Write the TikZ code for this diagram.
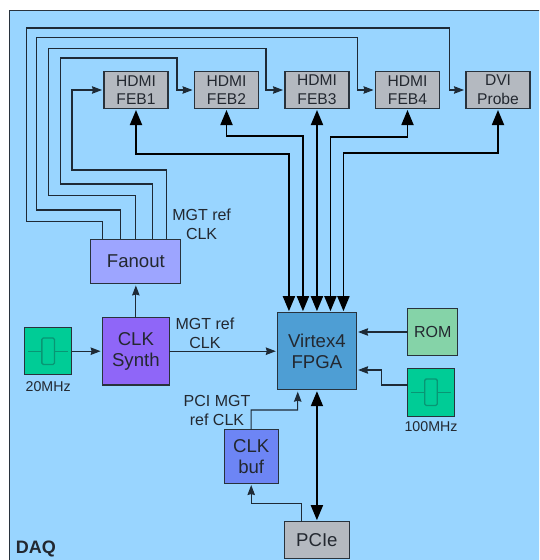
\documentclass[tikz,border=0pt]{standalone}
\usepackage{fontspec}
\setmainfont{Liberation Sans}
\usetikzlibrary{arrows.meta, positioning}
\definecolor{boardblue}{RGB}{153, 213, 255}
\definecolor{edgegrey}{RGB}{40, 50, 60}
\definecolor{wiregrey}{RGB}{30, 42, 54}
\definecolor{inkgrey}{RGB}{35, 40, 48}
\definecolor{portgrey}{RGB}{180, 185, 192}
\definecolor{fanoutblue}{RGB}{157, 165, 255}
\definecolor{synthpurple}{RGB}{143, 102, 248}
\definecolor{oscgreen}{RGB}{0, 204, 150}
\definecolor{quartzgreen}{RGB}{8, 150, 116}
\definecolor{fpgablue}{RGB}{78, 158, 212}
\definecolor{romgreen}{RGB}{133, 211, 168}
\definecolor{bufblue}{RGB}{109, 133, 245}

\begin{document}
\begin{tikzpicture}[
            x=1pt, y=-1pt,
            block/.style={draw=edgegrey, line width=1.1pt, inner sep=0pt, outer sep=0pt, align=center, text=inkgrey, font=\fontsize{18.6}{21}\selectfont},
            port/.style={block, fill=portgrey, minimum width=64pt, minimum height=37pt, font=\fontsize{15.6}{18.6}\selectfont},
            osc/.style={block, fill=oscgreen, minimum width=47.5pt, minimum height=47pt},
            caption/.style={inner sep=0pt, align=center, text=inkgrey, font=\fontsize{16}{18.6}\selectfont},
            wire/.style={->, draw=wiregrey, line width=1.05pt, >={Stealth[length=10pt, width=7.5pt, inset=1pt]}, shorten >=2pt},
            bus/.style={<->, draw=black, line width=1.8pt, >={Stealth[length=15pt, width=12pt, inset=0pt]}, shorten >=1.5pt, shorten <=1.5pt},
            crystal/.pic={
                \draw[quartzgreen, line width=1pt] (-19.7,0) -- (-6.3,0) (6.3,0) -- (19.7,0);
                \draw[quartzgreen, line width=1.3pt, rounded corners=1.5pt] (-6.3,-13.3) rectangle (6.3,13.3);
            }
        ]
            \useasboundingbox (0,0) rectangle (539,560);
            \fill[white] (0,0) rectangle (539,560);
            \clip (0,0) rectangle (539,560);
            \node[draw=edgegrey, line width=0.8pt, fill=boardblue, inner sep=0pt, minimum width=540pt, minimum height=560pt, anchor=north west] (daq) at (9,10) {};
            \node[anchor=west, inner sep=0pt, text=inkgrey, font=\fontsize{18}{20}\selectfont\bfseries] (daqlabel) at (15.7,549.3) {DAQ};

            \node[port] (feb1) at (136,90) {HDMI\\FEB1};
            \node[port, right=26.5pt of feb1] (feb2) {HDMI\\FEB2};
            \node[port, right=26.5pt of feb2] (feb3) {HDMI\\FEB3};
            \node[port, right=26.5pt of feb3] (feb4) {HDMI\\FEB4};
            \node[port, right=26.5pt of feb4] (dvi) {DVI\\Probe};

            \node[block, fill=synthpurple, minimum width=66.5pt, minimum height=67.5pt] (synth) at (135.85,351.2) {CLK\\Synth};
            \node[block, fill=fanoutblue, minimum width=90pt, minimum height=44pt, above=34pt of synth] (fanout) {Fanout};
            \node[osc, left=30.7pt of synth] (osc20) {};
            \pic at (osc20.center) {crystal};
            \node[font=\fontsize{14.2}{16}\selectfont, inner sep=0pt, text=inkgrey, below=6.5pt of osc20] (label20) {20MHz};

            \node[block, fill=fpgablue, minimum width=78.3pt, minimum height=77pt, right=108.7pt of synth] (fpga) {Virtex4\\FPGA};
            \node[block, fill=romgreen, minimum width=50pt, minimum height=47.4pt, font=\fontsize{16}{18}\selectfont] (rom) at (432.7,332) {ROM};
            \node[osc, minimum width=46.6pt, minimum height=47.7pt] (osc100) at (431,392.2) {};
            \pic at (osc100.center) {crystal};
            \node[font=\fontsize{14.2}{16}\selectfont, inner sep=0pt, text=inkgrey, below=5.5pt of osc100] (label100) {100MHz};

            \node[block, fill=bufblue, minimum width=53.7pt, minimum height=53.3pt] (buf) at (251.2,456.4) {CLK\\buf};
            \node[block, fill=portgrey, minimum width=64.3pt, minimum height=37pt] (pcie) at (316.9,540.2) {PCIe};

            \node[caption] (mgtfan) at (201.6,224) {MGT ref\\CLK};
            \node[caption] (mgtsyn) at (205,333) {MGT ref\\CLK};
            \node[caption] (pcimgt) at (217,410.7) {PCI MGT\\ref CLK};

            \draw[wire] ([xshift=-33pt]fanout.north) |- (26.7,221.7) |- (449.3,28) |- (dvi.west);
            \draw[wire] ([xshift=-15.3pt]fanout.north) |- (36.3,210) |- (357.3,37.7) |- (feb4.west);
            \draw[wire] (fanout.north) |- (48.3,195.7) |- (266,48.3) |- (feb3.west);
            \draw[wire] ([xshift=16.7pt]fanout.north) |- (60.3,184) |- (177,58) |- (feb2.west);
            \draw[wire] ([xshift=30.7pt]fanout.north) |- (72,170) |- (feb1.west);

            \draw[wire] (synth.north) -- (fanout.south);
            \draw[wire] (osc20.east) -- (synth.west);
            \draw[wire] (synth.east) -- (fpga.west);
            \draw[wire] (rom.west) -- (fpga.east |- rom.west);
            \draw[wire] ([yshift=7.2pt]osc100.west) -| (381.7,370) -- (fpga.east |- 381.7,370);
            \draw[wire] (buf.north) |- (297.7,410) -- ([xshift=-19.2pt]fpga.south);
            \draw[wire] ([xshift=-15.2pt]pcie.north) |- (251.2,503.3) -- (buf.south);

            \draw[bus] ([xshift=-28pt]fpga.north) -- ++(0,-158.7) -| (feb1.south);
            \draw[bus] ([xshift=-14pt]fpga.north) -- ++(0,-176.7) -| (feb2.south);
            \draw[bus] (fpga.north) -- (feb3.south);
            \draw[bus] ([xshift=13.5pt]fpga.north) -- ++(0,-175.4) -| (feb4.south);
            \draw[bus] ([xshift=26.5pt]fpga.north) -- ++(0,-160) -| (dvi.south);
            \draw[bus] (fpga.south) -- (pcie.north);
        \end{tikzpicture}
\end{document}
